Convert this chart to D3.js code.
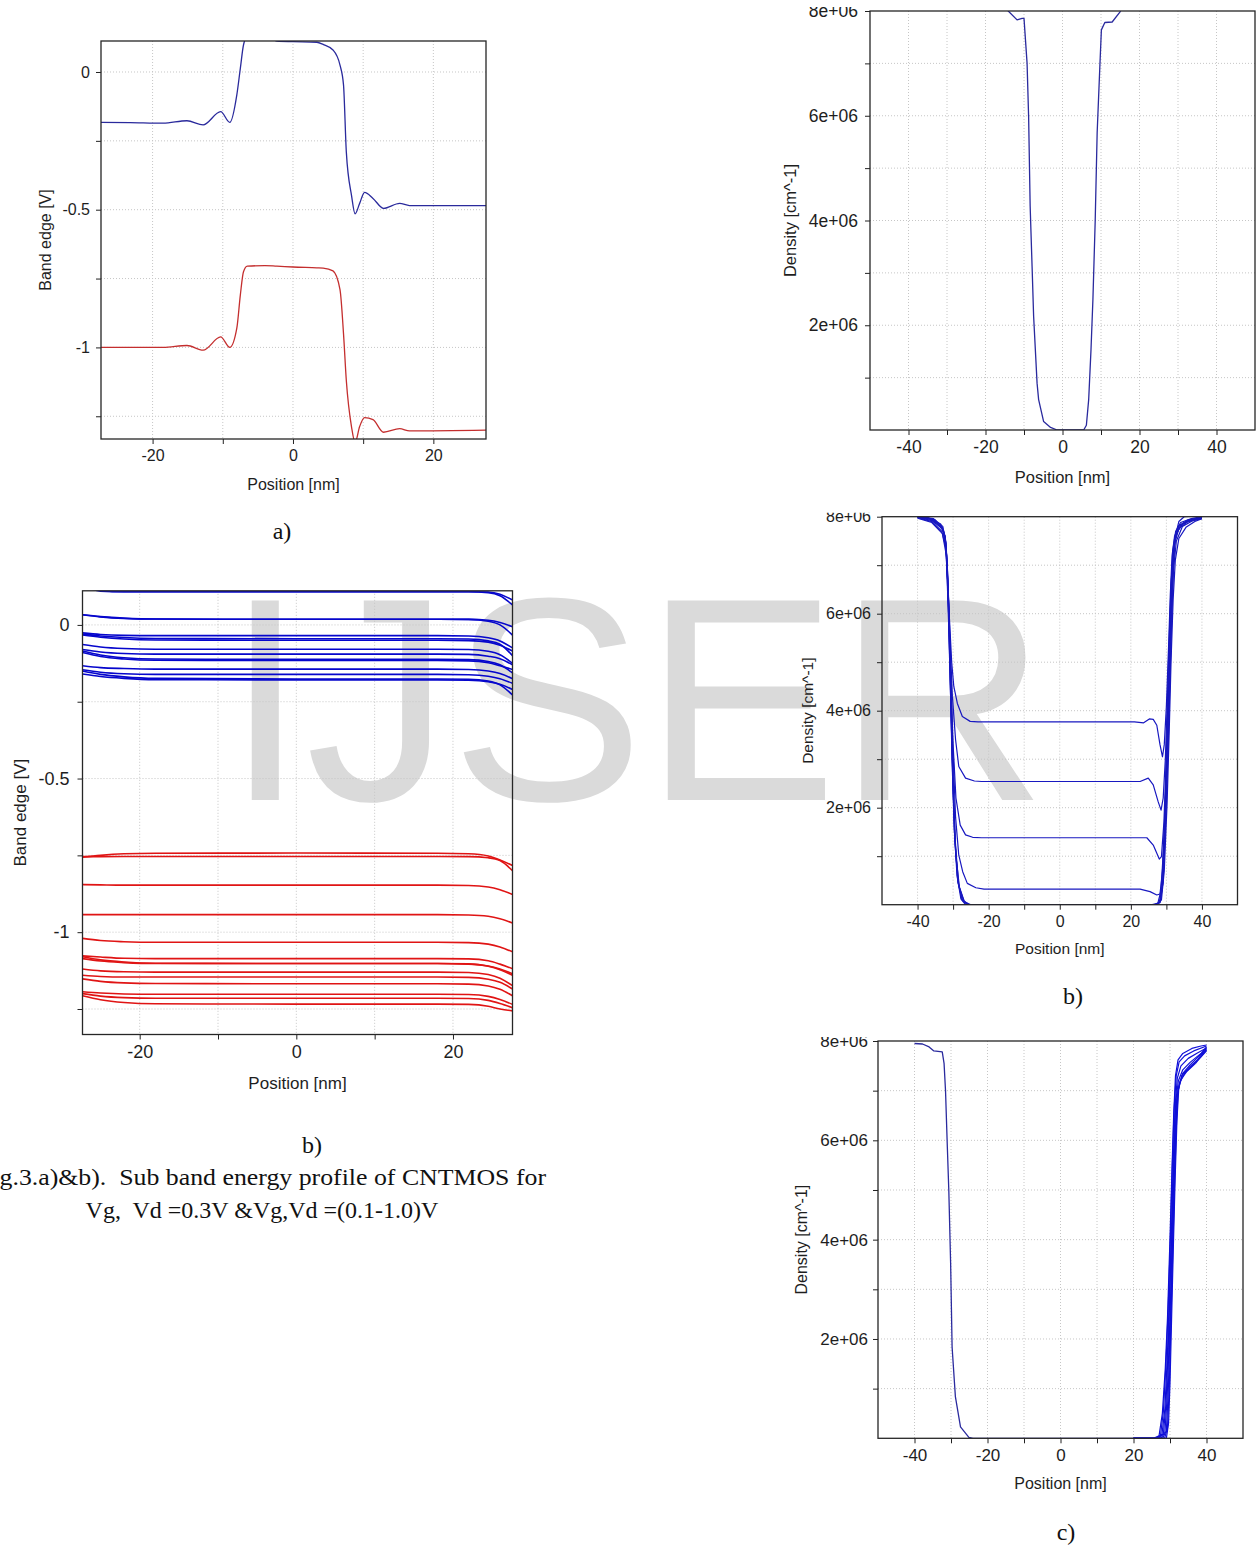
<!DOCTYPE html>
<meta charset='utf-8'>
<style>
	body { margin: 0; background: #fff; }
	text { font-family: 'Liberation Sans', Arial, sans-serif; }
	.cap { font-family: 'Liberation Serif', 'Times New Roman', serif; }
</style>
<body>
<div id='container'></div>
<script src='https://d3js.org/d3.v7.min.js'></script>
<script>
	// ---------- data ----------

	// a) band edges at Vg, Vd = 0.3 V
	const posA = [-27.4, -23.2, -18.5, -15.1, -12.8, -10.3, -9.0, -8.0, -7.5, -7.05, -6.5, -4, -2.3, 0, 3.4, 4.3, 5.7, 6.7, 7.2, 7.6, 8.35, 8.85, 9.5, 10.2, 11.4, 12.9, 15.2, 16.6, 27.5];
	const condA = [-0.183, -0.184, -0.186, -0.177, -0.192, -0.144, -0.183, -0.083, 0.013, 0.098, 0.13, 0.14, 0.112, 0.110, 0.108, 0.100, 0.080, 0.025, -0.047, -0.29, -0.45, -0.515, -0.477, -0.437, -0.459, -0.495, -0.477, -0.485, -0.485];
	const valA = [-1.0, -1.0, -1.0, -0.993, -1.01, -0.962, -1.0, -0.93, -0.81, -0.725, -0.705, -0.703, -0.705, -0.708, -0.711, -0.712, -0.722, -0.79, -0.95, -1.12, -1.29, -1.345, -1.287, -1.255, -1.262, -1.308, -1.295, -1.303, -1.30];

	// b) band edges for Vg, Vd = 0.1 ... 1.0 V
	const posB = [-27.3, -25, -22, -18, 0, 18, 22, 24.5, 26, 27.6];
	const condB = [
		[0.135, 0.112, 0.108, 0.108, 0.108, 0.108, 0.108, 0.105, 0.095, 0.065],
		[0.128, 0.110, 0.108, 0.108, 0.108, 0.108, 0.108, 0.107, 0.100, 0.081],
		[0.033, 0.026, 0.021, 0.019, 0.0185, 0.0185, 0.018, 0.012, 0.0, -0.033],
		[0.033, 0.027, 0.022, 0.019, 0.0185, 0.0185, 0.018, 0.015, 0.008, -0.006],
		[-0.026, -0.031, -0.034, -0.035, -0.035, -0.035, -0.036, -0.042, -0.052, -0.075],
		[-0.030, -0.036, -0.041, -0.044, -0.045, -0.045, -0.046, -0.052, -0.063, -0.100],
		[-0.033, -0.040, -0.046, -0.049, -0.050, -0.050, -0.051, -0.056, -0.066, -0.085],
		[-0.064, -0.072, -0.077, -0.079, -0.079, -0.079, -0.080, -0.086, -0.097, -0.125],
		[-0.080, -0.088, -0.093, -0.095, -0.095, -0.095, -0.096, -0.102, -0.110, -0.130],
		[-0.085, -0.098, -0.107, -0.111, -0.112, -0.112, -0.113, -0.119, -0.130, -0.156],
		[-0.090, -0.103, -0.111, -0.115, -0.116, -0.116, -0.117, -0.123, -0.133, -0.145],
		[-0.133, -0.139, -0.142, -0.144, -0.144, -0.144, -0.145, -0.150, -0.158, -0.175],
		[-0.146, -0.154, -0.159, -0.161, -0.161, -0.161, -0.162, -0.167, -0.175, -0.190],
		[-0.150, -0.161, -0.169, -0.174, -0.176, -0.176, -0.177, -0.183, -0.195, -0.228],
		[-0.160, -0.168, -0.174, -0.178, -0.179, -0.179, -0.180, -0.185, -0.193, -0.210]
	];
	const valB = [
		[-0.756, -0.750, -0.745, -0.743, -0.7425, -0.743, -0.745, -0.752, -0.765, -0.783],
		[-0.754, -0.754, -0.7535, -0.7535, -0.7535, -0.7535, -0.754, -0.758, -0.767, -0.800],
		[-0.845, -0.846, -0.847, -0.847, -0.847, -0.847, -0.848, -0.853, -0.862, -0.877],
		[-0.943, -0.943, -0.943, -0.943, -0.943, -0.943, -0.944, -0.948, -0.956, -0.970],
		[-1.020, -1.027, -1.031, -1.033, -1.033, -1.033, -1.034, -1.039, -1.048, -1.064],
		[-1.077, -1.081, -1.085, -1.086, -1.086, -1.086, -1.087, -1.093, -1.104, -1.119],
		[-1.080, -1.090, -1.097, -1.101, -1.102, -1.102, -1.103, -1.110, -1.120, -1.135],
		[-1.086, -1.094, -1.099, -1.102, -1.102, -1.102, -1.104, -1.111, -1.122, -1.140],
		[-1.120, -1.126, -1.129, -1.130, -1.130, -1.130, -1.131, -1.138, -1.150, -1.174],
		[-1.140, -1.144, -1.146, -1.146, -1.146, -1.146, -1.147, -1.153, -1.163, -1.185],
		[-1.152, -1.160, -1.165, -1.167, -1.168, -1.168, -1.169, -1.175, -1.186, -1.207],
		[-1.194, -1.198, -1.201, -1.202, -1.202, -1.202, -1.203, -1.209, -1.219, -1.235],
		[-1.200, -1.208, -1.213, -1.215, -1.215, -1.215, -1.216, -1.222, -1.232, -1.246],
		[-1.207, -1.220, -1.229, -1.233, -1.234, -1.234, -1.235, -1.241, -1.250, -1.256]
	];

	// electron density, units of 1e6 cm^-1, [position nm, density]
	const densTop = [[-40, 9.5], [-16, 8.3], [-14.1, 8.0], [-11.8, 7.83], [-10.5, 7.86], [-10.0, 7.86], [-9.2, 7.0], [-8.8, 5.98], [-8.4, 4.27], [-7.9, 3.12], [-7.5, 2.17], [-6.6, 0.89], [-6.2, 0.58], [-4.9, 0.16], [-3.1, 0.05], [-1.4, 0], [5.5, 0], [6.2, 0.09], [6.8, 0.58], [7.4, 1.53], [7.9, 2.49], [8.5, 4.01], [9.0, 5.67], [9.7, 6.94], [10.1, 7.64], [11.0, 7.78], [12.9, 7.79], [15.0, 7.99], [17, 8.3], [40, 9.5]];

	const densMid = [
		[[-40, 8.0], [-36.5, 7.96], [-33.5, 7.82], [-32.2, 7.6], [-31.7, 7.0], [-31.1, 6.0], [-30.4, 5.0], [-29.8, 4.5], [-28.8, 4.15], [-27.4, 3.88], [-25.2, 3.78], [-23, 3.77], [21, 3.77], [23.6, 3.75], [25.2, 3.83], [26.3, 3.82], [27.3, 3.7], [28.2, 3.3], [28.9, 3.05], [29.4, 3.3], [30.0, 4.1], [30.6, 5.3], [31.1, 6.4], [31.6, 7.2], [32.3, 7.6], [33.5, 7.82], [36, 7.92], [40, 7.98]],
		[[-40, 7.99], [-36, 7.92], [-33, 7.75], [-32, 7.45], [-31.5, 6.8], [-30.9, 5.5], [-30.2, 4.3], [-29.3, 3.4], [-28.4, 2.85], [-26.5, 2.61], [-24, 2.55], [-22, 2.54], [22.6, 2.54], [24.9, 2.61], [26.3, 2.47], [27.7, 2.12], [28.5, 1.95], [29.1, 2.2], [29.7, 3.0], [30.3, 4.3], [30.8, 5.5], [31.3, 6.6], [31.9, 7.3], [32.8, 7.65], [34.5, 7.85], [37, 7.94], [40, 7.98]],
		[[-40, 8.0], [-35.5, 7.95], [-32.8, 7.72], [-31.9, 7.3], [-31.3, 6.3], [-30.7, 4.8], [-30.0, 3.3], [-29.2, 2.2], [-28.0, 1.64], [-26.5, 1.44], [-24.5, 1.39], [-22, 1.38], [24.5, 1.38], [26.3, 1.23], [28.0, 0.94], [28.6, 0.99], [29.3, 1.7], [29.9, 2.9], [30.4, 4.1], [30.9, 5.3], [31.4, 6.5], [31.9, 7.2], [32.6, 7.6], [34, 7.83], [37, 7.93], [40, 7.97]],
		[[-40, 7.98], [-36, 7.9], [-33.2, 7.7], [-32.0, 7.35], [-31.4, 6.5], [-30.8, 5.0], [-30.1, 3.3], [-29.3, 1.8], [-28.4, 1.02], [-27.3, 0.68], [-26, 0.44], [-23.6, 0.35], [-21.3, 0.32], [22.6, 0.32], [25.4, 0.27], [27.3, 0.2], [28.2, 0.22], [28.9, 0.7], [29.6, 1.9], [30.2, 3.3], [30.7, 4.6], [31.2, 5.9], [31.7, 6.9], [32.3, 7.45], [33.5, 7.75], [36, 7.9], [40, 7.96]],
		[[-40, 8.0], [-36, 7.95], [-33, 7.78], [-32.1, 7.5], [-31.6, 6.9], [-31.0, 5.6], [-30.4, 3.8], [-29.9, 2.2], [-29.2, 1.0], [-28.2, 0.35], [-26.8, 0.06], [-25, 0], [26, 0], [27.6, 0.03], [28.5, 0.3], [29.2, 1.2], [29.8, 2.4], [30.3, 3.8], [30.8, 5.2], [31.3, 6.5], [31.8, 7.3], [32.6, 7.7], [34, 7.88], [37, 7.96], [40, 8.0]],
		[[-40, 7.99], [-35, 7.93], [-32.6, 7.7], [-31.8, 7.2], [-31.2, 6.0], [-30.6, 4.2], [-30.0, 2.5], [-29.3, 1.2], [-28.4, 0.4], [-27, 0.08], [-25.5, 0], [26.5, 0], [28, 0.05], [28.9, 0.4], [29.6, 1.5], [30.2, 2.9], [30.7, 4.2], [31.2, 5.6], [31.7, 6.8], [32.4, 7.5], [33.5, 7.8], [36, 7.93], [40, 7.99]],
		[[-40, 8.0], [-37, 7.98], [-33.5, 7.85], [-32.3, 7.6], [-31.8, 7.0], [-31.3, 5.9], [-30.7, 4.3], [-30.1, 2.6], [-29.5, 1.3], [-28.6, 0.45], [-27.3, 0.08], [-26, 0], [27, 0], [28.3, 0.06], [29.1, 0.5], [29.9, 1.9], [30.5, 3.3], [31.0, 4.6], [31.5, 5.9], [32.0, 6.9], [32.8, 7.5], [34.5, 7.8], [37.5, 7.92], [40, 7.97]],
		[[-40, 7.97], [-36, 7.88], [-33, 7.65], [-31.9, 7.2], [-31.3, 6.1], [-30.8, 4.6], [-30.3, 3.0], [-29.7, 1.6], [-28.9, 0.6], [-27.8, 0.12], [-26.5, 0], [27.5, 0], [28.6, 0.1], [29.4, 0.7], [30.2, 2.1], [30.8, 3.6], [31.3, 5.0], [31.9, 6.3], [32.5, 7.1], [33.5, 7.55], [35.5, 7.78], [38, 7.9], [40, 7.96]],
		[[-40, 8.0], [-35.5, 7.96], [-32.9, 7.8], [-32.0, 7.45], [-31.5, 6.6], [-30.9, 5.0], [-30.3, 3.2], [-29.6, 1.5], [-28.7, 0.5], [-27.5, 0.1], [-25.8, 0], [26.8, 0], [28.2, 0.04], [29.0, 0.45], [29.7, 1.7], [30.3, 3.1], [30.9, 4.5], [31.4, 5.8], [31.9, 6.9], [32.5, 7.6], [33.5, 7.9], [35, 8.0], [40, 8.02]]
	];

	const densLowLeft = [[-40, 7.95], [-37.8, 7.94], [-36, 7.88], [-34.7, 7.8], [-32.4, 7.78], [-31.9, 7.55], [-31.5, 7.0], [-31.0, 5.86], [-30.6, 4.99], [-30.1, 3.52], [-29.7, 1.84], [-28.8, 0.84], [-27.4, 0.23], [-25.1, 0.02], [-24, 0], [26, 0]];
	const densLowRight = [
		[[20, 0], [25.5, 0], [27, 0.05], [27.9, 0.5], [28.7, 1.4], [29.3, 2.4], [29.9, 3.8], [30.5, 5.3], [31.0, 6.5], [31.5, 7.3], [32.2, 7.62], [33.5, 7.75], [36, 7.85], [38.5, 7.9], [40, 7.92]],
		[[20, 0], [26, 0], [27.4, 0.06], [28.2, 0.55], [28.9, 1.5], [29.5, 2.6], [30.1, 4.0], [30.6, 5.4], [31.1, 6.6], [31.7, 7.3], [32.5, 7.58], [34, 7.7], [36.5, 7.8], [40, 7.9]],
		[[20, 0], [26.5, 0], [27.8, 0.08], [28.6, 0.6], [29.3, 1.7], [29.8, 2.8], [30.4, 4.2], [30.9, 5.6], [31.4, 6.7], [32.0, 7.25], [33, 7.5], [35, 7.65], [37.5, 7.76], [40, 7.86]],
		[[20, 0], [27, 0], [28.2, 0.1], [28.9, 0.7], [29.5, 1.8], [30.0, 3.0], [30.6, 4.4], [31.1, 5.8], [31.6, 6.8], [32.3, 7.2], [33.5, 7.42], [35.5, 7.57], [38, 7.72], [40, 7.83]],
		[[20, 0], [27.5, 0], [28.6, 0.12], [29.2, 0.8], [29.8, 2.0], [30.3, 3.2], [30.8, 4.6], [31.3, 5.9], [31.8, 6.8], [32.6, 7.15], [34, 7.35], [36, 7.5], [38.5, 7.68], [40, 7.8]],
		[[20, 0], [28, 0], [29, 0.15], [29.5, 0.9], [30.0, 2.1], [30.5, 3.4], [31.0, 4.8], [31.5, 6.0], [32.0, 6.9], [32.8, 7.2], [34.5, 7.38], [37, 7.55], [40, 7.82]],
		[[20, 0], [28.5, 0], [29.3, 0.2], [29.8, 1.0], [30.2, 2.2], [30.7, 3.6], [31.2, 5.0], [31.7, 6.2], [32.2, 7.0], [33.2, 7.3], [35, 7.45], [37.5, 7.62], [40, 7.85]],
		[[20, 0], [29, 0], [29.6, 0.3], [30.0, 1.1], [30.4, 2.3], [30.9, 3.8], [31.4, 5.2], [31.9, 6.4], [32.4, 7.05], [33.5, 7.35], [35.5, 7.52], [38, 7.7], [40, 7.88]]
	];

	// axis ticks
	const bandXTicks = [-20, -10, 0, 10, 20], bandXLabels = [-20, 0, 20];
	const bandYTicks = [-1.25, -1, -0.75, -0.5, -0.25, 0], bandYLabels = [-1, -0.5, 0];
	const densXTicks = [-40, -30, -20, -10, 0, 10, 20, 30, 40], densXLabels = [-40, -20, 0, 20, 40];
	const densYTicks = [1, 2, 3, 4, 5, 6, 7, 8], densYLabels = [2, 4, 6, 8];

	// ---------- drawing ----------
	const svg = d3.select('#container').append('svg')
		.attr('width', 1256).attr('height', 1547);
	svg.append('rect').attr('width', 1256).attr('height', 1547).attr('fill', '#fff');
	const defs = svg.append('defs');

	// watermark
	svg.append('text')
		.attr('x', 225).attr('y', 800)
		.attr('font-size', 290).attr('fill', '#dadada')
		.text('IJSER');

	const bandFmt = d => String(d);
	const densFmt = d => d + 'e+06';

	function panel(o) {
		const x = d3.scaleLinear().domain(o.xDom).range([o.left, o.right]);
		const y = d3.scaleLinear().domain(o.yDom).range([o.bottom, o.top]);
		const g = svg.append('g');

		defs.append('clipPath').attr('id', 'clip-' + o.name)
			.append('rect')
			.attr('x', o.left).attr('y', o.top)
			.attr('width', o.right - o.left).attr('height', o.bottom - o.top);
		// the plotting tool cuts the top tick label at its widget edge
		defs.append('clipPath').attr('id', 'yclip-' + o.name)
			.append('rect')
			.attr('x', 0).attr('y', o.top - 4)
			.attr('width', o.right).attr('height', o.bottom - o.top + 40);

		// dotted grid
		g.append('g').selectAll('line').data(o.xTicks).join('line')
			.attr('x1', d => x(d)).attr('x2', d => x(d))
			.attr('y1', o.top).attr('y2', o.bottom)
			.attr('stroke', '#c6c6c6').attr('stroke-dasharray', '1,2');
		g.append('g').selectAll('line').data(o.yTicks.filter(d => d < o.yDom[1])).join('line')
			.attr('y1', d => y(d)).attr('y2', d => y(d))
			.attr('x1', o.left).attr('x2', o.right)
			.attr('stroke', '#c6c6c6').attr('stroke-dasharray', '1,2');

		const plot = g.append('g').attr('clip-path', `url(#clip-${o.name})`);

		const xAxis = d3.axisBottom(x)
			.tickValues(o.xTicks)
			.tickFormat(d => o.xLabels.includes(d) ? o.fmtX(d) : '')
			.tickSize(5).tickSizeOuter(0).tickPadding(o.xPad);
		const yAxis = d3.axisLeft(y)
			.tickValues(o.yTicks)
			.tickFormat(d => o.yLabels.includes(d) ? o.fmtY(d) : '')
			.tickSize(5).tickSizeOuter(0).tickPadding(o.yPad);

		const xa = g.append('g').attr('transform', `translate(0, ${o.bottom})`).call(xAxis);
		const ya = g.append('g').attr('clip-path', `url(#yclip-${o.name})`)
			.append('g').attr('transform', `translate(${o.left}, 0)`).call(yAxis);
		for (const a of [xa, ya]) {
			a.select('.domain').remove();
			a.selectAll('line').attr('stroke', '#222');
			a.selectAll('text').attr('fill', '#1e1e1e')
				.attr('font-size', o.tickFs)
				.attr('font-family', "'Liberation Sans', Arial, sans-serif");
		}

		g.append('rect')
			.attr('x', o.left).attr('y', o.top)
			.attr('width', o.right - o.left).attr('height', o.bottom - o.top)
			.attr('fill', 'none').attr('stroke', '#262626').attr('stroke-width', 1.3);

		g.append('text')
			.attr('x', (o.left + o.right) / 2).attr('y', o.xTitleY)
			.attr('text-anchor', 'middle').attr('dominant-baseline', 'central')
			.attr('font-size', o.titleFs).attr('fill', '#1e1e1e')
			.text('Position [nm]');
		g.append('text')
			.attr('transform', `translate(${o.yTitleX}, ${(o.top + o.bottom) / 2}) rotate(-90)`)
			.attr('text-anchor', 'middle').attr('dominant-baseline', 'central')
			.attr('font-size', o.titleFs).attr('fill', '#1e1e1e')
			.text(o.yTitle);

		return { x, y, plot };
	}

	function drawCurve(p, pts, color, width, curve) {
		const line = d3.line()
			.x(d => p.x(d[0])).y(d => p.y(d[1]))
			.curve(curve || d3.curveMonotoneX);
		p.plot.append('path').datum(pts)
			.attr('d', line)
			.attr('fill', 'none').attr('stroke', color)
			.attr('stroke-width', width).attr('stroke-linejoin', 'round');
	}

	// a)
	const pA = panel({
		name: 'a', left: 101, right: 486, top: 41, bottom: 439,
		xDom: [-27.35, 27.5], yDom: [-1.3325, 0.1125],
		xTicks: bandXTicks, xLabels: bandXLabels, yTicks: bandYTicks, yLabels: bandYLabels,
		fmtX: bandFmt, fmtY: bandFmt, tickFs: 16, titleFs: 16, xPad: 6, yPad: 6,
		xTitleY: 484, yTitle: 'Band edge [V]', yTitleX: 45
	});
	drawCurve(pA, posA.map((p, i) => [p, condA[i]]), '#2a2a9c', 1.3);
	drawCurve(pA, posA.map((p, i) => [p, valA[i]]), '#c42e2e', 1.3);

	// b)
	const pB = panel({
		name: 'b', left: 82.5, right: 512.5, top: 590.8, bottom: 1034.5,
		xDom: [-27.3, 27.6], yDom: [-1.333, 0.111],
		xTicks: bandXTicks, xLabels: bandXLabels, yTicks: bandYTicks, yLabels: bandYLabels,
		fmtX: bandFmt, fmtY: bandFmt, tickFs: 18, titleFs: 17, xPad: 6, yPad: 8,
		xTitleY: 1083, yTitle: 'Band edge [V]', yTitleX: 20
	});
	condB.forEach(v => drawCurve(pB, posB.map((p, i) => [p, v[i]]), '#0606cc', 1.6));
	valB.forEach(v => drawCurve(pB, posB.map((p, i) => [p, v[i]]), '#e01414', 1.6));

	// density, single bias
	const pC = panel({
		name: 'c', left: 870, right: 1255, top: 11, bottom: 430,
		xDom: [-50, 50], yDom: [0, 8],
		xTicks: densXTicks, xLabels: densXLabels, yTicks: densYTicks, yLabels: densYLabels,
		fmtX: bandFmt, fmtY: densFmt, tickFs: 17.5, titleFs: 16.5, xPad: 6, yPad: 7,
		xTitleY: 477, yTitle: 'Density [cm^-1]', yTitleX: 790
	});
	drawCurve(pC, densTop, '#2a2a9e', 1.3, d3.curveLinear);

	// density, gate sweep
	const pD = panel({
		name: 'd', left: 882, right: 1237.5, top: 516.7, bottom: 904.7,
		xDom: [-50, 50], yDom: [0, 8],
		xTicks: densXTicks, xLabels: densXLabels, yTicks: densYTicks, yLabels: densYLabels,
		fmtX: bandFmt, fmtY: densFmt, tickFs: 16, titleFs: 15.5, xPad: 5.5, yPad: 6,
		xTitleY: 948, yTitle: 'Density [cm^-1]', yTitleX: 807.5
	});
	densMid.forEach(c => drawCurve(pD, c, '#1818c0', 1.2, d3.curveLinear));

	// density, drain sweep
	const pE = panel({
		name: 'e', left: 878, right: 1243, top: 1041, bottom: 1438.3,
		xDom: [-50, 50], yDom: [0, 8],
		xTicks: densXTicks, xLabels: densXLabels, yTicks: densYTicks, yLabels: densYLabels,
		fmtX: bandFmt, fmtY: densFmt, tickFs: 17, titleFs: 16, xPad: 5.5, yPad: 5,
		xTitleY: 1483, yTitle: 'Density [cm^-1]', yTitleX: 801.7
	});
	drawCurve(pE, densLowLeft, '#2a2a9e', 1.3, d3.curveLinear);
	densLowRight.forEach(c => drawCurve(pE, c, '#1010d8', 1.2, d3.curveLinear));

	// sub-figure labels and caption
	const caps = [
		{ t: 'a)', x: 282, y: 539, a: 'middle' },
		{ t: 'b)', x: 312, y: 1153, a: 'middle' },
		{ t: 'b)', x: 1073, y: 1004, a: 'middle' },
		{ t: 'c)', x: 1066, y: 1540, a: 'middle' },
		{ t: 'Fig.3.a)&b).\u00a0 Sub band energy profile of CNTMOS for', x: -22, y: 1185, a: 'start', len: 568 },
		{ t: 'Vg,\u00a0 Vd =0.3V &Vg,Vd =(0.1-1.0)V', x: 262, y: 1218, a: 'middle' }
	];
	const capText = svg.selectAll('text.cap').data(caps).join('text')
		.attr('class', 'cap')
		.attr('x', d => d.x).attr('y', d => d.y)
		.attr('text-anchor', d => d.a)
		.attr('font-size', 24).attr('fill', '#111')
		.text(d => d.t);
	capText.filter(d => d.len)
		.attr('textLength', d => d.len)
		.attr('lengthAdjust', 'spacingAndGlyphs');
</script>
</body>
